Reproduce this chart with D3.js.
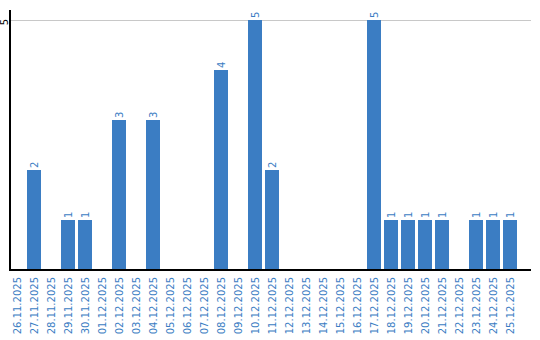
<!DOCTYPE html>
<html>
<head>
<meta charset="utf-8">
<script src="https://cdn.jsdelivr.net/npm/d3@7"></script>
<style>
  body { margin: 0; background: #fff; }
  svg { display: block; font-family: "DejaVu Sans", Verdana, sans-serif; }
</style>
</head>
<body>
<script>
let width = 540,
  height = 340;

// daily counts
let dates = [
  "26.11.2025", "27.11.2025", "28.11.2025", "29.11.2025", "30.11.2025",
  "01.12.2025", "02.12.2025", "03.12.2025", "04.12.2025", "05.12.2025",
  "06.12.2025", "07.12.2025", "08.12.2025", "09.12.2025", "10.12.2025",
  "11.12.2025", "12.12.2025", "13.12.2025", "14.12.2025", "15.12.2025",
  "16.12.2025", "17.12.2025", "18.12.2025", "19.12.2025", "20.12.2025",
  "21.12.2025", "22.12.2025", "23.12.2025", "24.12.2025", "25.12.2025"
];
let counts = [
  0, 2, 0, 1, 1,
  0, 3, 0, 3, 0,
  0, 0, 4, 0, 5,
  2, 0, 0, 0, 0,
  0, 5, 1, 1, 1,
  1, 0, 1, 1, 1
];
let yTicks = [5];

let barColor = "#3b7dc3";

let left = 10, baseY = 270, topY = 20;

let x = d3.scaleBand()
  .domain(dates)
  .range([left, 517])
  .paddingInner(3 / 17)
  .paddingOuter(0)
  .align(0);

let y = d3.scaleLinear()
  .domain([0, d3.max(yTicks)])
  .range([baseY, topY]);

let svg = d3.select("body").append("svg")
  .attr("width", width)
  .attr("height", height);

// grid
svg.selectAll(".grid")
  .data(yTicks)
  .enter().append("line")
  .attr("class", "grid")
  .attr("x1", left).attr("x2", 531)
  .attr("y1", d => y(d) + 0.5).attr("y2", d => y(d) + 0.5)
  .attr("stroke", "#c8c8c8")
  .attr("stroke-width", 1);

let data = dates.map((d, i) => ({ date: d, value: counts[i] }));

svg.selectAll(".bar")
  .data(data.filter(d => d.value > 0))
  .enter().append("rect")
  .attr("class", "bar")
  .attr("x", d => x(d.date))
  .attr("width", x.bandwidth())
  .attr("y", d => y(d.value))
  .attr("height", d => baseY - y(d.value))
  .attr("fill", barColor);

// value labels
svg.selectAll(".val")
  .data(data.filter(d => d.value > 0))
  .enter().append("text")
  .attr("class", "val")
  .attr("transform", d => `translate(${x(d.date) + x.bandwidth() / 2},${y(d.value) - 2}) rotate(-90)`)
  .attr("dy", "0.35em")
  .attr("text-anchor", "start")
  .attr("font-size", 10)
  .attr("fill", barColor)
  .text(d => d.value);

// axes lines
svg.append("line")
  .attr("x1", left).attr("x2", left)
  .attr("y1", 10).attr("y2", baseY + 1)
  .attr("stroke", "#000").attr("stroke-width", 2);

svg.append("line")
  .attr("x1", left - 1).attr("x2", 531)
  .attr("y1", baseY).attr("y2", baseY)
  .attr("stroke", "#000").attr("stroke-width", 2);

// y tick labels
svg.selectAll(".ytick")
  .data(yTicks)
  .enter().append("text")
  .attr("class", "ytick")
  .attr("transform", d => `translate(4,${y(d) + 2}) rotate(-90)`)
  .attr("dy", "0.35em")
  .attr("text-anchor", "middle")
  .attr("font-size", 10)
  .attr("fill", "#000")
  .text(d => d);

// date labels
svg.selectAll(".xlab")
  .data(dates)
  .enter().append("text")
  .attr("class", "xlab")
  .attr("transform", d => `translate(${x(d) + x.bandwidth() / 2},277) rotate(-90)`)
  .attr("dy", "0.35em")
  .attr("text-anchor", "end")
  .attr("font-size", 10)
  .attr("fill", barColor)
  .text(d => d);
</script>
</body>
</html>
